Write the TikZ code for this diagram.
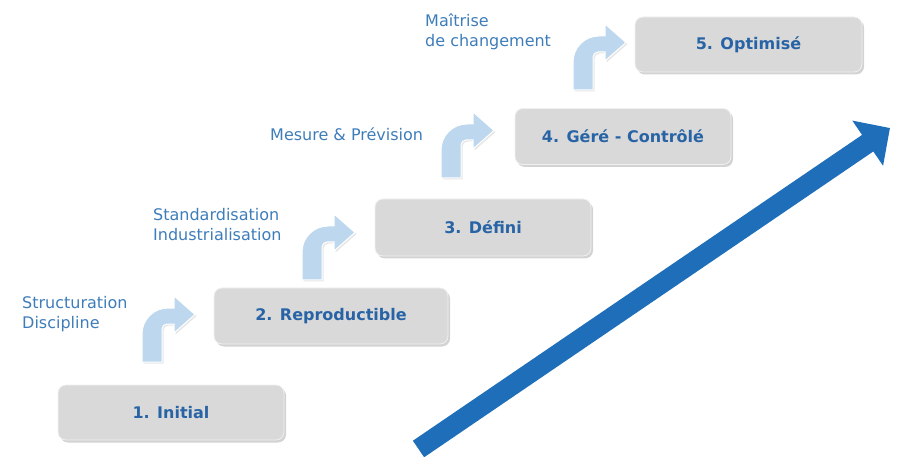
\documentclass[tikz,border=0pt]{standalone}
\usepackage{fontspec}
\setmainfont{DejaVu Sans}
\usepackage{tikz}
\usetikzlibrary{positioning}
\usetikzlibrary{arrows.meta}
\usetikzlibrary{shadows}
\usetikzlibrary{math}

\definecolor{stepgray}{RGB}{217,217,217}
\definecolor{stepblue}{RGB}{40,100,165}
\definecolor{labelblue}{RGB}{62,125,185}
\definecolor{bendblue}{RGB}{189,215,238}
\definecolor{bigblue}{RGB}{30,110,185}

\tikzset{
  stepbox/.style={rectangle, rounded corners=8pt, fill=stepgray,
    draw=white!88!gray, line width=0.8pt, inner sep=0pt,
    drop shadow={shadow xshift=2pt, shadow yshift=-2.5pt, opacity=0.35, fill=gray},
    font=\fontsize{16}{20}\selectfont\bfseries, text=stepblue},
  steplabel/.style={anchor=north west, inner sep=0pt, align=left,
    font=\fontsize{16}{20}\selectfont, text=labelblue},
  % bent arrow, origin at the bottom left of its shaft
  bentarrow/.pic={
    \fill[bendblue, draw=white, line width=1pt,
      drop shadow={shadow xshift=1.5pt, shadow yshift=-1.5pt, opacity=0.2, fill=gray}]
      (0,0) -- (0,-28) arc[start angle=180, end angle=270, radius=26]
      -- (32,-54) -- (32,-66) -- (53,-47.5) -- (32,-29) -- (32,-38)
      -- (25,-38) arc[start angle=270, end angle=180, radius=5]
      -- (20,0) -- cycle;
  }
}

\begin{document}
\begin{tikzpicture}[x=1pt,y=-1pt]

  \tikzmath{
    \shaft = 20;  % width of the big arrow
    \headw = 53;  % width of its head
    \headl = 27;  % length of its head
  }

  \useasboundingbox (0,0) rectangle (908,457);

  % big arrow
  \coordinate (tail) at (418.5,449);
  \coordinate (tip) at (890,128);
  \draw[bigblue, line width=\shaft pt,
    -{Triangle[width=\headw pt, length=\headl pt]}] (tail) -- (tip);

  % the five levels
  \node[stepbox, minimum width=226pt, minimum height=55pt] (initial) at (171,412.5) {1. Initial};
  \node[stepbox, minimum width=234pt, minimum height=56pt] (repro) at (331,316) {2. Reproductible};
  \node[stepbox, minimum width=216pt, minimum height=57pt] (defini) at (483,227.5) {3. Défini};
  \node[stepbox, minimum width=216pt, minimum height=56pt] (gere) at (623,136.5) {4. Géré - Contrôlé};
  \node[stepbox, minimum width=227pt, minimum height=55pt] (optim) at (748.5,44.5) {5. Optimisé};

  % bent arrows between the levels
  \pic at (142,362) {bentarrow};
  \pic at (302,280) {bentarrow};
  \pic at (441,178) {bentarrow};
  \pic at (573,90) {bentarrow};

  % labels
  \node[steplabel] (struct) at (22,296) {Structuration\\Discipline};
  \node[steplabel] (stand) at (153,208) {Standardisation\\Industrialisation};
  \node[steplabel] (mesure) at (270,128) {Mesure \& Prévision};
  \node[steplabel] (maitrise) at (425,14) {Maîtrise\\de changement};

\end{tikzpicture}
\end{document}
